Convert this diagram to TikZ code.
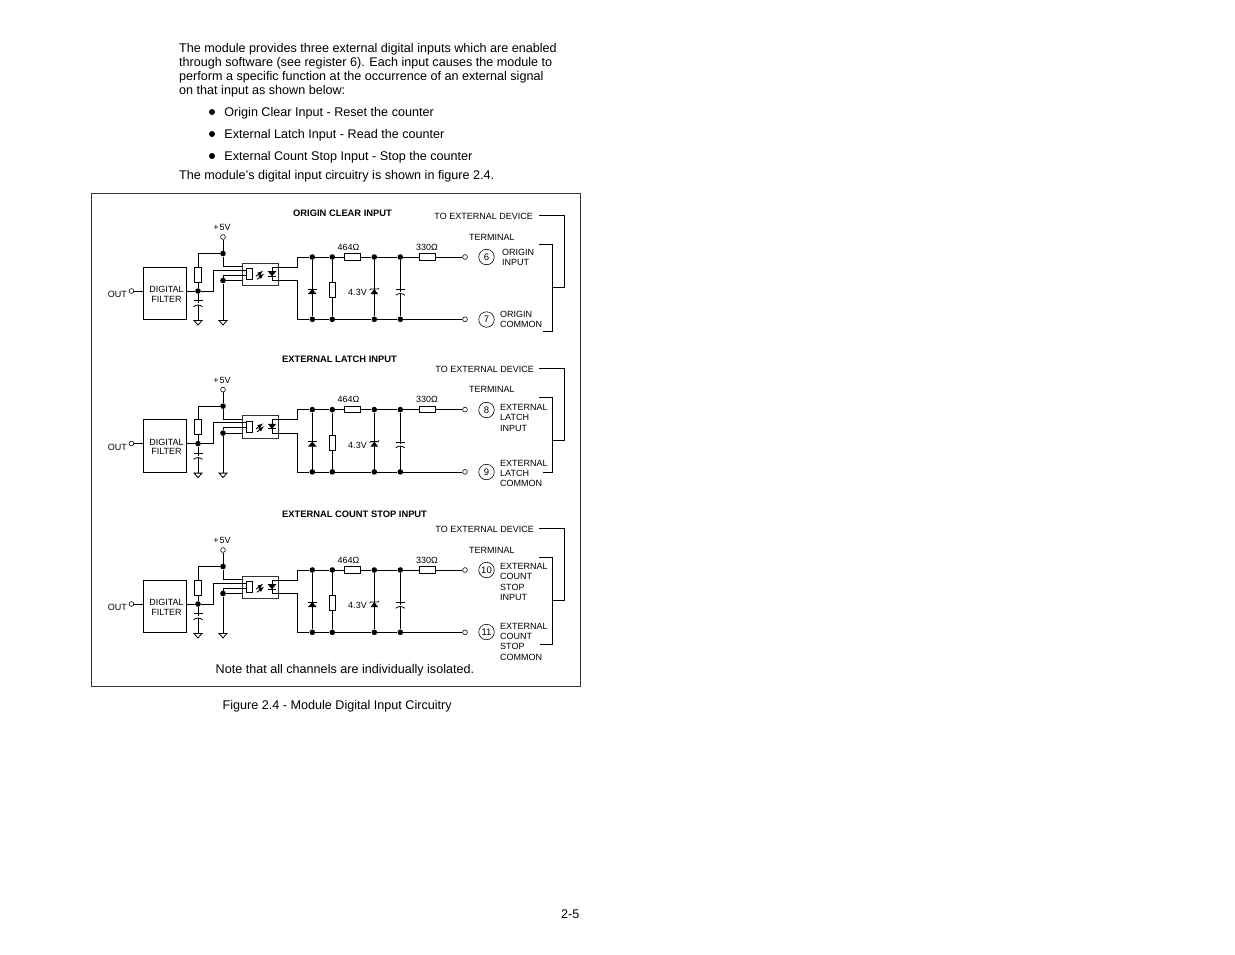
\documentclass[tikz,border=0pt]{standalone}
\usepackage{fontspec}
\setmainfont{Liberation Sans}
\usetikzlibrary{positioning}

\tikzset{
  wire/.style={line width=.8pt},
  jdot/.style={circle,fill,inner sep=0pt,minimum size=5.6pt},
  term/.style={circle,draw,line width=.6pt,fill=white,inner sep=0pt,minimum size=4.8pt},
  resv/.style={draw,line width=.8pt,inner sep=0pt,minimum width=6.5pt,minimum height=15pt},
  resh/.style={draw,line width=.8pt,inner sep=0pt,minimum width=16pt,minimum height=6.5pt},
  block/.style={draw,line width=.8pt,inner sep=0pt,align=center},
  small/.style={font=\fontsize{9}{10.35}\selectfont,inner sep=0pt,align=left,yshift=-.6pt},
  smallb/.style={font=\fontsize{9.35}{10.35}\selectfont\bfseries,inner sep=0pt,anchor=west,yshift=-.6pt},
  body/.style={font=\fontsize{12.6}{14}\selectfont,inner sep=0pt,align=left,anchor=west,yshift=-1.3pt},
  tnum/.style={circle,draw,line width=.6pt,inner sep=0pt,minimum size=15.5pt,font=\fontsize{9.5}{10}\selectfont},
  bullet/.style={circle,fill,inner sep=0pt,minimum size=6pt},
  gndsym/.pic={\draw[wire] (-4,0) -- (4,0) -- (0,4.5) -- cycle;},
  capsym/.pic={\draw[wire] (-4.5,-2.2) -- (4.5,-2.2);
               \draw[wire] (-4.5,3.8) .. controls (-2,1.4) and (2,1.4) .. (4.5,3.8);},
  diodesym/.pic={\fill (-4.3,2.5) -- (4.3,2.5) -- (0,-2.5) -- cycle;
               \draw[wire] (-4.3,-2.5) -- (4.3,-2.5);},
  zenersym/.pic={\fill (-3.7,2.5) -- (3.7,2.5) -- (0,-2.5) -- cycle;
               \draw[wire] (-4.7,-1.3) -- (-3.7,-2.5) -- (3.7,-2.5) -- (4.7,-3.7);},
  lightsym/.pic={\draw[line width=.9pt,-latex] (-4,1.5) -- (3,-4);
               \draw[line width=.9pt,-latex] (-3,4.5) -- (4,-1);}
}

\begin{document}
\begin{tikzpicture}[x=1pt,y=-1pt]
\useasboundingbox (0,0) rectangle (1235,954);

% page text
\node[body] (intro) at (179,69) {The module provides three external digital inputs which are enabled\\
through software (see register 6). Each input causes the module to\\
perform a specific function at the occurrence of an external signal\\
on that input as shown below:};
\node[bullet] (b1) at (212,112) {};
\node[bullet] (b2) at (212,134) {};
\node[bullet] (b3) at (212,156) {};
\node[body, right=9pt of b1] (t1) {Origin Clear Input - Reset the counter};
\node[body, right=9pt of b2] (t2) {External Latch Input - Read the counter};
\node[body, right=9pt of b3] (t3) {External Count Stop Input - Stop the counter};
\node[body] (lead) at (179,174.5) {The module’s digital input circuitry is shown in figure 2.4.};

% frame
\node[draw,line width=.7pt,black!80,minimum width=489.5pt,minimum height=493pt,inner sep=0pt] (frame) at (335.75,439.5) {};

% the three channels
\foreach \off in {0,152.6,313}{
\begin{scope}[yshift=-\off pt]
\node[block,minimum width=43.5pt,minimum height=52.5pt] (filter) at (165,293.5) {};
\node[small,align=center,font=\fontsize{9}{9.6}\selectfont] (ftext) at (166.5,293.5) {DIGITAL\\FILTER};
\node[small,anchor=east] (out) at (127,294) {OUT};
\node[term] (outc) at (131.5,291) {};
\node[jdot] (j1) at (198,291) {};
\node[resv] (r1) at (198,274.5) {};
\node[term] (vcc) at (223,237) {};
\node[small] (vlabel) at (222,227) {+\kern.8pt5V};
\node[jdot] (j2) at (223,253.5) {};
\node[jdot] (j3) at (223,280.5) {};
\coordinate (cap1) at (198,303);
\coordinate (g1) at (198,320.5);
\coordinate (g2) at (223,320.5);
\coordinate (bend) at (213.5,270);
\coordinate (up) at (223,275);

\node[draw,line width=.8pt,black!80,minimum width=36pt,minimum height=22.5pt,inner sep=0pt] (opto) at (260.5,274.3) {};
\node[draw,line width=.8pt,inner sep=0pt,minimum width=6pt,minimum height=11pt] (led) at (249.5,273.8) {};
\coordinate (dtop) at (272,267);
\coordinate (dbot) at (272,280.5);
\node[jdot] (a1) at (312.3,257) {};
\node[jdot] (a2) at (332.3,257) {};
\node[jdot] (a3) at (374.3,257) {};
\node[jdot] (a4) at (400.3,257) {};
\node[jdot] (c1) at (312.3,319.3) {};
\node[jdot] (c2) at (332.3,319.3) {};
\node[jdot] (c3) at (374.3,319.3) {};
\node[jdot] (c4) at (400.3,319.3) {};
\node[resv] (r2) at (332.3,289.8) {};
\node[resh] (r3) at (352,257) {};
\node[resh] (r4) at (427.3,257) {};
\node[term] (in) at (465,257) {};
\node[term] (com) at (465,319.3) {};
\coordinate (cap2) at (400.3,291.5);

\node[small] (l464) at (348.5,246.5) {464Ω};
\node[small] (l330) at (427,246.5) {330Ω};
\node[small] (l43) at (357.5,292) {4.3V};

\draw[wire] (outc) -- (outc -| filter.west);
\draw[wire] (filter.east |- j1) -- (j1);
\draw[wire] (j1) -- (r1);
\draw[wire] (r1) |- (j2);
\draw[wire] (vcc) -- (j2);
\draw[wire] (j2) |- (opto.west |- 0,266.5);
\draw[wire] (j1) -| (bend) -- (led.west |- bend);
\draw[wire] (j3) -- (opto.west |- j3);
\draw[wire] (j3) -- (up) -- (led.west |- up);
\draw[wire] (j3) -- (g2);
\draw[wire] (j1) -- (cap1);
\draw[wire] (cap1 |- 0,305) -- (g1);
\draw[wire] (dtop) -| (dtop -| 297,0) |- (a1);
\draw[wire] (dbot) -| (dbot -| 297,0) |- (c1);
\draw[wire] (dtop) -- (dbot);
\draw[wire] (a1) -- (a2) -- (r3) -- (a3) -- (a4) -- (r4) -- (in);
\draw[wire] (c1) -- (c2) -- (c3) -- (c4) -- (com);
\draw[wire] (a1) -- (c1);
\draw[wire] (a2) -- (r2) -- (c2);
\draw[wire] (a3) -- (c3);
\draw[wire] (a4) -- (cap2);
\draw[wire] (cap2 |- 0,293.5) -- (c4);

\pic at (cap1) {capsym};
\pic at (400.3,291.5) {capsym};
\pic at (g1) {gndsym};
\pic at (g2) {gndsym};
\pic[yscale=-1] at (272,273.7) {diodesym};
\pic at (260,274.8) {lightsym};
\pic at (312.3,291.5) {diodesym};
\pic at (374.3,291.5) {zenersym};
\end{scope}
}

% titles
\node[smallb] (title1) at (293,212.5) {ORIGIN CLEAR INPUT};
\node[smallb] (title2) at (282,358.5) {EXTERNAL LATCH INPUT};
\node[smallb] (title3) at (282,513.5) {EXTERNAL COUNT STOP INPUT};

% terminals, channel 1
\node[small,anchor=east] (dev1) at (533,215.5) {TO EXTERNAL DEVICE};
\node[small,anchor=west] (term1) at (469,237) {TERMINAL};
\node[tnum] (n6) at (486.5,257) {6};
\node[tnum] (n7) at (486.5,319.5) {7};
\node[small,anchor=west] (s6) at (502,256.5) {ORIGIN\\INPUT};
\node[small,anchor=west] (s7) at (500,319) {ORIGIN\\COMMON};
\coordinate (d1a) at (538.5,215);
\coordinate (d1b) at (564.5,287);
\coordinate (d1c) at (552.5,287);
\coordinate (t1a) at (539,244);
\coordinate (t1b) at (543,331);
\draw[wire] (d1a) -| (d1b) -- (d1c);
\draw[wire] (t1a) -| (d1c) |- (t1b);

% terminals, channel 2
\node[small,anchor=east] (dev2) at (534,368.5) {TO EXTERNAL DEVICE};
\node[small,anchor=west] (term2) at (469,388.5) {TERMINAL};
\node[tnum] (n8) at (486.5,410) {8};
\node[tnum] (n9) at (486.5,472) {9};
\node[small,anchor=west] (s8) at (500,417.3) {EXTERNAL\\LATCH\\INPUT};
\node[small,anchor=west] (s9) at (500,472.8) {EXTERNAL\\LATCH\\COMMON};
\coordinate (d2a) at (538.5,368.3);
\coordinate (d2b) at (564.5,440);
\coordinate (d2c) at (552.5,440);
\coordinate (t2a) at (539,397.3);
\coordinate (t2b) at (543,472.3);
\draw[wire] (d2a) -| (d2b) -- (d2c);
\draw[wire] (t2a) -| (d2c) |- (t2b);

% terminals, channel 3
\node[small,anchor=east] (dev3) at (534,528.5) {TO EXTERNAL DEVICE};
\node[small,anchor=west] (term3) at (469,549.5) {TERMINAL};
\node[tnum] (n10) at (486.5,570) {10};
\node[tnum] (n11) at (486.5,632) {11};
\node[small,anchor=west] (s10) at (500,581.3) {EXTERNAL\\COUNT\\STOP\\INPUT};
\node[small,anchor=west] (s11) at (500,641) {EXTERNAL\\COUNT\\STOP\\COMMON};
\coordinate (d3a) at (538.5,528.3);
\coordinate (d3b) at (564.5,600);
\coordinate (d3c) at (552.5,600);
\coordinate (t3a) at (539,557.3);
\coordinate (t3b) at (540,644.3);
\draw[wire] (d3a) -| (d3b) -- (d3c);
\draw[wire] (t3a) -| (d3c) |- (t3b);

% notes under the circuit
\node[body] (note) at (215.5,668.5) {Note that all channels are individually isolated.};
\node[body] (caption) at (222.5,704.5) {Figure 2.4 - Module Digital Input Circuitry};
\node[body] (page) at (561,913) {2-5};
\end{tikzpicture}
\end{document}
